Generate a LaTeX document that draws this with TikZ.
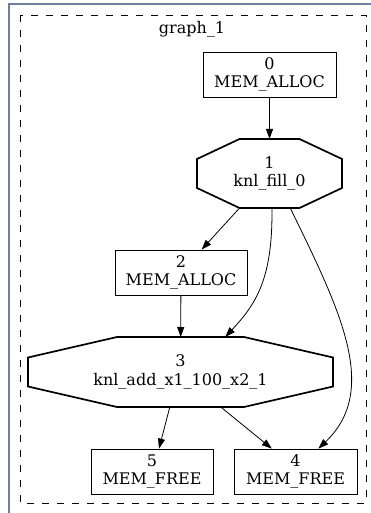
\documentclass[tikz,border=0pt]{standalone}
\usepackage{fontspec}
\setmainfont{DejaVu Serif}
\usetikzlibrary{arrows.meta,calc}
\definecolor{framecol}{HTML}{6E7F9E}
\newcommand{\lblfont}{\fontsize{16}{18.5}\selectfont}
% octagon border drawn round a knl node: name, x cut, y cut
\newcommand{\knlframe}[3]{\draw[line width=1.7pt] ($(#1.north west)+(#2,0)$) -- ($(#1.north east)+(-#2,0)$) -- ($(#1.north east)+(0,#3)$) -- ($(#1.south east)+(0,-#3)$) -- ($(#1.south east)+(-#2,0)$) -- ($(#1.south west)+(#2,0)$) -- ($(#1.south west)+(0,-#3)$) -- ($(#1.north west)+(0,#3)$) -- cycle;}
\tikzset{
	opbox/.style={draw, rectangle, line width=0.8pt, minimum height=45pt, inner sep=2pt, align=center, font=\lblfont},
	knl/.style={rectangle, outer sep=0pt, minimum height=69pt, inner sep=2pt, align=center, font=\lblfont},
	edge/.style={-{Triangle[length=10pt,width=7pt]}, line width=0.8pt}
}
\begin{document}
\begin{tikzpicture}[x=1pt, y=-1pt]
		\useasboundingbox (0,0) rectangle (371,513);
		\draw[framecol, line width=1.5pt] (9,4) rectangle (390,530);
		\draw[line width=0.8pt, dash pattern=on 7pt off 8pt] (20,15) rectangle (366,503);
		\node[font=\lblfont] (title) at (192,29) {graph\_1};
		
		\node[opbox, minimum width=133pt] (0) at (269.5,74.5) {0\\MEM\_ALLOC};
		\node[knl, minimum width=145pt] (1) at (269.5,173.5) {1\\knl\_fill\_0};
		\knlframe{1}{42.5}{20}
		\node[opbox, minimum width=132pt] (2) at (181,272.5) {2\\MEM\_ALLOC};
		\node[knl, minimum width=305pt, minimum height=70pt] (3) at (180.5,372) {3\\knl\_add\_x1\_100\_x2\_1};
		\knlframe{3}{89}{20.5}
		\node[opbox, minimum width=123pt] (4) at (295.5,471.5) {4\\MEM\_FREE};
		\node[opbox, minimum width=122pt] (5) at (152,471.5) {5\\MEM\_FREE};
		
		\draw[edge] (0) -- (1);
		\draw[edge] (1.-131) -- (2.48);
		\draw[edge] (1.-86) .. controls (273,280) and (255,305) .. (3.38);
		\draw[edge] (1.-59) .. controls (340,310) and (380,390) .. (4.45);
		\draw[edge] (2) -- (3);
		\draw[edge] (3.-107) -- (5.73);
		\draw[edge] (3.-41) -- (4.136);
		
	\end{tikzpicture}
\end{document}
